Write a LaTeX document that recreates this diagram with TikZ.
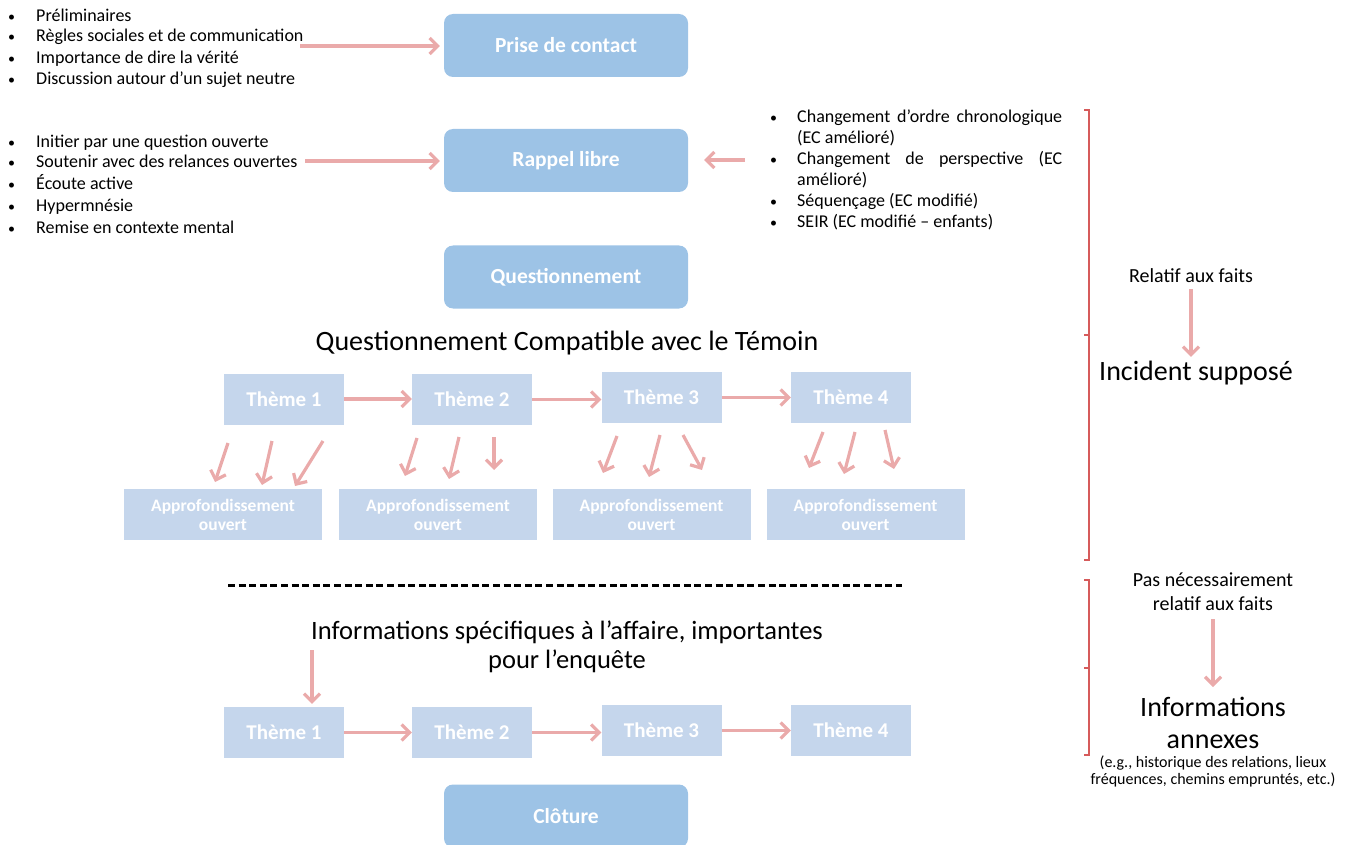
\documentclass[tikz,border=0pt]{standalone}
\usepackage{fontspec}
\setmainfont{Carlito}
\usetikzlibrary{arrows.meta,calc}
\definecolor{boxblue}{HTML}{9DC3E6}
\definecolor{themeblue}{HTML}{C5D6EC}
\definecolor{arrpink}{HTML}{EAAAAA}
\definecolor{brred}{HTML}{D65B5B}
\tikzset{
 mainbox/.style={fill=boxblue, rounded corners=9pt, minimum width=244pt, minimum height=63pt, text=white, font=\fontsize{21.5}{24}\selectfont\bfseries, inner sep=0pt},
 themebox/.style={fill=themeblue, minimum width=120pt, minimum height=51pt, text=white, font=\fontsize{21}{24}\selectfont\bfseries, inner sep=0pt},
 appbox/.style={fill=themeblue, minimum width=198pt, minimum height=51pt, text=white, font=\fontsize{17.5}{19}\selectfont\bfseries, align=center, inner sep=0pt},
 parr/.style={draw=arrpink, line width=3.2pt, -{Straight Barb[length=8pt,width=16pt]}},
 btxt/.style={anchor=base west, font=\fontsize{18}{21}\selectfont, inner sep=0pt},
 bdot/.style={anchor=base west, font=\fontsize{14}{18}\selectfont, inner sep=0pt},
 bracket/.style={draw=brred, line width=2.8pt},
 bigtxt/.style={font=\fontsize{28}{30}\selectfont, align=center, inner sep=0pt},
 midtxt/.style={font=\fontsize{20}{24}\selectfont, align=center, inner sep=0pt},
}
\begin{document}
\begin{tikzpicture}[x=1pt,y=-1pt]
\useasboundingbox (0,0) rectangle (1347,845);
\begin{scope}
\clip (0,0) rectangle (1347,845);
% main rounded boxes
\node[mainbox] (prise) at (566,45.5) {Prise de contact};
\node[mainbox] (rappel) at (566,160.5) {Rappel libre};
\node[mainbox] (quest) at (566,277) {Questionnement};
\node[mainbox] (clot) at (566,816) {Clôture};
\end{scope}

% left list 1
\foreach \y/\t [count=\i] in {22/Préliminaires, 42/Règles sociales et de communication, 64/Importance de dire la vérité, 85/Discussion autour d’un sujet neutre}{
  \node[bdot] (ba\i) at (8,\y) {•};
  \node[btxt] (la\i) at (36,\y) {\t};
}
% left list 2
\foreach \y/\t [count=\i] in {148/Initier par une question ouverte, 168/Soutenir avec des relances ouvertes, 190/Écoute active, 212/Hypermnésie, 234/Remise en contexte mental}{
  \node[bdot] (bb\i) at (8,\y) {•};
  \node[btxt] (lb\i) at (36,\y) {\t};
}
% right list
\node[bdot] (bc1) at (770,123) {•};
\node[btxt] (lc1) at (797,123) {\makebox[265pt][s]{Changement d’ordre chronologique}};
\node[btxt] (lc1b) at (797,144) {(EC amélioré)};
\node[bdot] (bc2) at (770,165) {•};
\node[btxt] (lc2) at (797,165) {\makebox[265pt][s]{Changement de perspective (EC}};
\node[btxt] (lc2b) at (797,186) {amélioré)};
\node[bdot] (bc3) at (770,207) {•};
\node[btxt] (lc3) at (797,207) {Séquençage (EC modifié)};
\node[bdot] (bc4) at (770,228) {•};
\node[btxt] (lc4) at (797,228) {SEIR (EC modifié – enfants)};

% arrows to main boxes
\coordinate (a1) at (300,46);
\coordinate (a2) at (305,161);
\coordinate (a3) at (745,160);
\draw[parr, shorten >=4pt] (a1) -- (prise.west |- a1);
\draw[parr, shorten >=4pt] (a2) -- (rappel.west |- a2);
\draw[parr, shorten >=16pt] (a3) -- (rappel.east |- a3);

% heading 1
\node[bigtxt] (h1) at (567,343) {Questionnement Compatible avec le Témoin};

% theme row 1
\node[themebox] (t1) at (284,399) {Thème 1};
\node[themebox] (t2) at (472,399.5) {Thème 2};
\node[themebox] (t3) at (661.5,397.5) {Thème 3};
\node[themebox] (t4) at (851,397.5) {Thème 4};
\draw[parr] (t1.east) -- (t2.west |- t1.east);
\draw[parr] (t2.east) -- (t3.west |- t2.east);
\draw[parr] (t3.east) -- (t4.west |- t3.east);

% approfondissement boxes
\node[appbox] (p1) at (223,514.5) {Approfondissement\\ouvert};
\node[appbox] (p2) at (438,514.5) {Approfondissement\\ouvert};
\node[appbox] (p3) at (651.5,514.5) {Approfondissement\\ouvert};
\node[appbox] (p4) at (865.5,514.5) {Approfondissement\\ouvert};

% diagonal arrows
\foreach \xa/\ya/\xb/\yb in {228/443/215/482, 272/441/262/485, 323/441/295/486,
  417/438/405/476, 459/437/449/479, 494/437/494/470,
  617/436/603/473, 660/435/649/477, 683/435/702/470,
  823/432/809/468, 855/432/844/474, 885/430/894/469}{
  \draw[parr] (\xa,\ya) -- (\xb,\yb);
}

% dashed separator
\coordinate (d1) at (228,585);
\coordinate (d2) at (902,585);
\draw[line width=3pt, dash pattern=on 7pt off 3.6pt] (d1) -- (d2);

% heading 2
\node[font=\fontsize{26.5}{29}\selectfont, align=center, inner sep=0pt] (h2) at (567,647) {Informations spécifiques à l’affaire, importantes\\pour l’enquête};

% theme row 2
\node[themebox] (b1) at (284,732.5) {Thème 1};
\node[themebox] (b2) at (472,732.5) {Thème 2};
\node[themebox] (b3) at (661.5,730.5) {Thème 3};
\node[themebox] (b4) at (851,730.5) {Thème 4};
\draw[parr] (b1.east) -- (b2.west |- b1.east);
\draw[parr] (b2.east) -- (b3.west |- b2.east);
\draw[parr] (b3.east) -- (b4.west |- b3.east);
\coordinate (v1) at (312,650);
\draw[parr, shorten >=3pt] (v1) -- (v1 |- b1.north);

% right side brackets
\draw[bracket] (1084,110) -- (1089,110) -- (1089,560) -- (1084,560);
\draw[bracket] (1089,335) -- (1084,335);
\draw[bracket] (1084,580) -- (1089,580) -- (1089,755) -- (1084,755);
\draw[bracket] (1089,668) -- (1084,668);

% right side texts
\node[midtxt] (rel) at (1191,276) {Relatif aux faits};
\node[bigtxt] (inc) at (1196,373) {Incident supposé};
\draw[parr, shorten <=6pt, shorten >=4pt] (rel.south) -- (rel.south |- inc.north);

\node[midtxt] (pas) at (1213,592) {Pas nécessairement\\relatif aux faits};
\node[font=\fontsize{28}{32}\selectfont, align=center, inner sep=0pt] (ann) at (1213,723) {Informations\\annexes};
\draw[parr, shorten <=8pt, shorten >=10pt] (pas.south) -- (ann.north);
\node[font=\fontsize{16}{17}\selectfont, align=center, inner sep=0pt] (eg) at (1213,771) {(e.g., historique des relations, lieux\\fréquences, chemins empruntés, etc.)};
\end{tikzpicture}
\end{document}
